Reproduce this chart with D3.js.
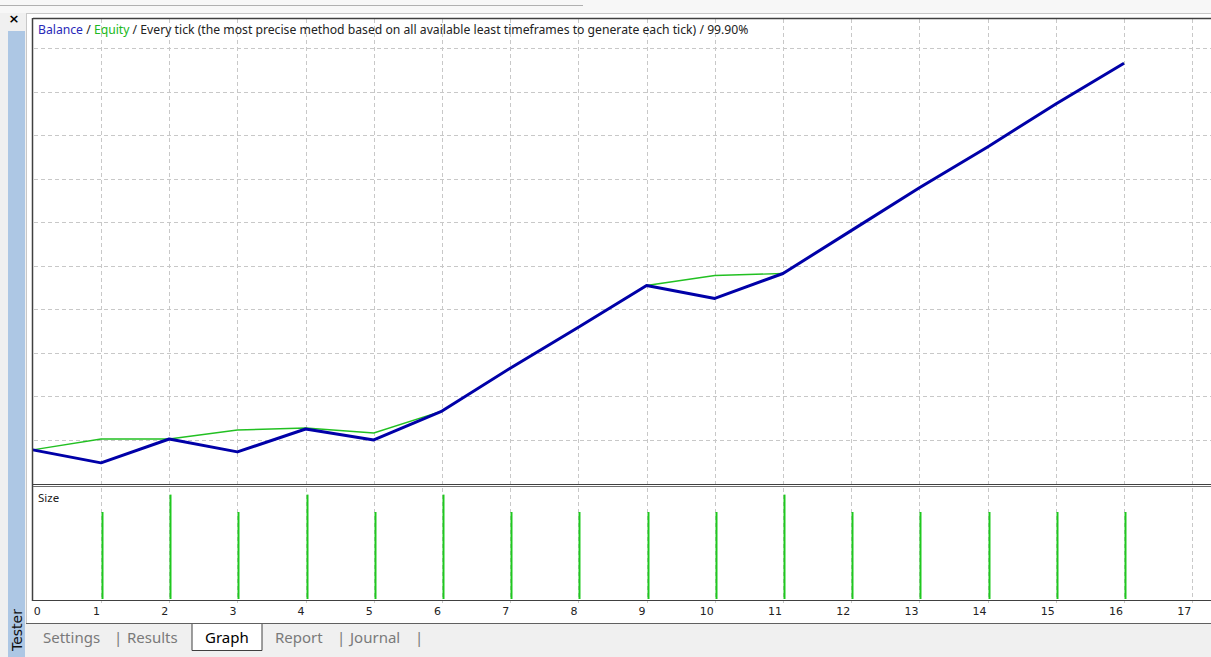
<!DOCTYPE html>
<html>
<head>
<meta charset="utf-8">
<script src="https://cdn.jsdelivr.net/npm/d3@7"></script>
<style>
  body { margin: 0; background: #f0f0f0; overflow: hidden; }
  svg { display: block; }
</style>
</head>
<body>
<div id="chart"></div>
<script>
// trade number on the x axis
var trades = d3.range(0, 17);
var xTicks = d3.range(0, 18);

// balance and equity after each trade
var balance = [9886, 9737, 10011, 9863, 10126, 10000, 10332, 10824, 11293, 11773,
               11625, 11911, 12403, 12895, 13364, 13856, 14325];
var equity  = [9886, 10011, 10011, 10114, 10137, 10080, 10332, 10824, 11293, 11773,
               11888, 11911, 12403, 12895, 13364, 13856, 14325];

// lot size of each trade (trade 0 has none)
var sizeTrades = d3.range(1, 17);
var sizes = [0.10, 0.12, 0.10, 0.12, 0.10, 0.12, 0.10, 0.10, 0.10, 0.10,
             0.12, 0.10, 0.10, 0.10, 0.10, 0.10];

var gridValues = d3.range(10000, 14501, 500);
var tabs = ["Settings", "Results", "Graph", "Report", "Journal"];

var W = 1211, H = 657;
var svg = d3.select('#chart').append('svg')
    .attr('width', W).attr('height', H);

// window chrome
svg.append('rect').attr('x', 0).attr('y', 0).attr('width', W).attr('height', 13).attr('fill', '#f7f7f7');
svg.append('line').attr('x1', 0).attr('x2', 583).attr('y1', 5.5).attr('y2', 5.5).attr('stroke', '#b0b0b0');
svg.append('rect').attr('x', 8).attr('y', 31).attr('width', 17).attr('height', H - 31).attr('fill', '#adc7e4');
svg.append('text').attr('x', 14).attr('y', 23).attr('text-anchor', 'middle')
    .style('font', 'bold 13px "DejaVu Sans"').text('×');
svg.append('text').attr('transform', 'translate(22,651) rotate(-90)')
    .style('font', '14px "DejaVu Sans"').attr('fill', '#111').text('Tester');

// chart background
svg.append('rect').attr('x', 26).attr('y', 13).attr('width', W - 26).attr('height', 611).attr('fill', '#fff');
svg.append('line').attr('x1', 26.5).attr('x2', 26.5).attr('y1', 13).attr('y2', 624).attr('stroke', '#c8c8c8');
svg.append('line').attr('x1', 26).attr('x2', W).attr('y1', 13.5).attr('y2', 13.5).attr('stroke', '#c8c8c8');

var x = d3.scaleLinear().domain([0, 17]).range([32.8, 1192.2]);
var y = d3.scaleLinear().domain([9483, 14844]).range([485, 18]);
var ySize = d3.scaleLinear().domain([0, 0.1276]).range([599, 488]);

var grid = svg.append('g').attr('stroke', '#c8c8c8').attr('stroke-dasharray', '4,3');
grid.selectAll('.h').data(gridValues).enter().append('line')
    .attr('x1', 34).attr('x2', W)
    .attr('y1', function (d) { return Math.round(y(d)) + 0.5; })
    .attr('y2', function (d) { return Math.round(y(d)) + 0.5; });
grid.selectAll('.v').data(xTicks.slice(1)).enter().append('line')
    .attr('x1', function (d) { return Math.round(x(d)) + 0.5; })
    .attr('x2', function (d) { return Math.round(x(d)) + 0.5; })
    .attr('y1', 19).attr('y2', 603);

// size bars
svg.append('g').selectAll('line').data(sizes).enter().append('line')
    .attr('x1', function (d, i) { return Math.round(x(sizeTrades[i])) + 1.5; })
    .attr('x2', function (d, i) { return Math.round(x(sizeTrades[i])) + 1.5; })
    .attr('y1', ySize(0)).attr('y2', function (d) { return ySize(d); })
    .attr('stroke', '#1ec81e').attr('stroke-width', 2);

// equity and balance lines
var line = d3.line().x(function (d, i) { return x(trades[i]); }).y(function (d) { return y(d); });
svg.append('path').datum(equity).attr('d', line)
    .attr('fill', 'none').attr('stroke', '#22c022').attr('stroke-width', 1.4);
svg.append('path').datum(balance).attr('d', line)
    .attr('fill', 'none').attr('stroke', '#0000a8').attr('stroke-width', 3)
    .attr('stroke-linejoin', 'round');

// frames
var frame = svg.append('g').attr('stroke', '#404040').attr('fill', 'none');
frame.append('line').attr('x1', 33).attr('x2', W).attr('y1', 18.5).attr('y2', 18.5).attr('stroke-width', 1.5);
frame.append('line').attr('x1', 32.5).attr('x2', 32.5).attr('y1', 18).attr('y2', 601).attr('stroke-width', 1.5);
frame.append('line').attr('x1', 33).attr('x2', W).attr('y1', 484.5).attr('y2', 484.5);
frame.append('line').attr('x1', 33).attr('x2', W).attr('y1', 486.5).attr('y2', 486.5).attr('stroke', '#707070');
frame.append('line').attr('x1', 33).attr('x2', W).attr('y1', 600.5).attr('y2', 600.5);

// x axis labels
svg.append('g').selectAll('text').data(xTicks).enter().append('text')
    .attr('x', function (d) { return d === 0 ? x(d) + 1 : x(d) - 1; })
    .attr('y', 615)
    .attr('text-anchor', function (d) { return d === 0 ? 'start' : 'end'; })
    .style('font', '11px "DejaVu Sans"').attr('fill', '#222')
    .text(function (d) { return d; });

// title
var title = svg.append('text').attr('x', 38).attr('y', 34)
    .style('font', '12.2px "Noto Sans"').attr('fill', '#222');
title.append('tspan').attr('fill', '#2828b8').text('Balance');
title.append('tspan').text(' / ');
title.append('tspan').attr('fill', '#20b820').text('Equity');
title.append('tspan').text(' / Every tick (the most precise method based on all available least timeframes to generate each tick) / 99.90%');

svg.append('text').attr('x', 38).attr('y', 502)
    .style('font', '11.5px "Noto Sans"').attr('fill', '#222').text('Size');

// tabs
svg.append('line').attr('x1', 26).attr('x2', W).attr('y1', 623.5).attr('y2', 623.5).attr('stroke', '#606060');
var tabX = [43, 127, 205, 275, 350];
var sepX = [114, 337, 415];
svg.append('path').attr('d', 'M192,624V650.5H262V624').attr('fill', '#fff').attr('stroke', '#404040');
svg.append('g').selectAll('text').data(tabs).enter().append('text')
    .attr('x', function (d, i) { return tabX[i]; }).attr('y', 643)
    .style('font', '15px "Noto Sans"')
    .attr('fill', function (d) { return d === 'Graph' ? '#000' : '#7a7a7a'; })
    .text(function (d) { return d; });
svg.append('g').selectAll('text').data(sepX).enter().append('text')
    .attr('x', function (d) { return d; }).attr('y', 643)
    .style('font', '15px "Noto Sans"').attr('fill', '#7a7a7a').text('|');
</script>
</body>
</html>
